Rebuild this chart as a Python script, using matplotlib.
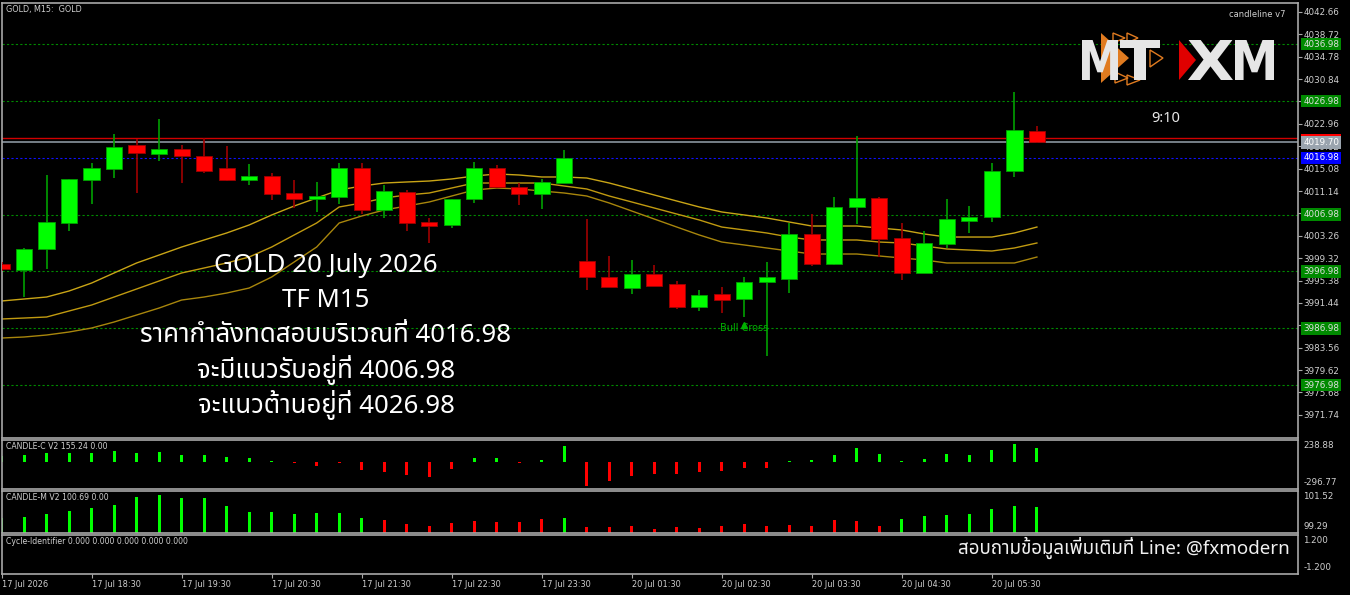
import matplotlib
matplotlib.use('Agg')
import matplotlib.pyplot as plt
from matplotlib import font_manager
from matplotlib.ft2font import FT2Font
from matplotlib.textpath import TextPath
from matplotlib.patches import PathPatch, Polygon, Rectangle
from matplotlib.font_manager import FontProperties
from matplotlib.transforms import Affine2D, blended_transform_factory

# ---- data (GOLD M15, 17 Jul 17:30 -> 20 Jul 06:00) ----
opens = [3998.29, 3997.23, 4000.93, 4005.51, 4013.08, 4015.02, 4019.24, 4017.66, 4018.54, 4017.30,
         4015.19, 4013.08, 4013.78, 4010.79, 4009.73, 4010.09, 4015.19, 4007.80, 4010.97, 4005.68,
         4005.16, 4009.73, 4015.19, 4011.85, 4010.61, 4012.55, 3998.82, 3996.00, 3994.06, 3996.53,
         3994.77, 3990.72, 3993.01, 3992.13, 3995.12, 3995.65, 4003.57, 3998.29, 4008.33, 4009.91,
         4002.87, 3996.71, 4001.81, 4005.86, 4006.56, 4014.66, 4021.71]
highs = [3998.64, 4001.11, 4013.96, 4013.26, 4016.07, 4021.18, 4020.30, 4023.82, 4019.24, 4020.47,
         4019.07, 4015.90, 4014.31, 4013.08, 4012.73, 4016.07, 4016.07, 4012.20, 4011.32, 4006.39,
         4009.73, 4016.25, 4015.72, 4012.55, 4013.26, 4018.36, 4006.21, 3999.70, 3998.99, 3998.11,
         3995.30, 3993.71, 3994.24, 3996.00, 3998.64, 4005.51, 4007.09, 4010.09, 4020.83, 4010.09,
         4005.51, 4004.10, 4009.73, 4008.50, 4016.07, 4028.57, 4022.59]
lows = [3997.06, 3992.48, 3997.41, 4004.10, 4008.85, 4013.43, 4010.79, 4016.42, 4012.55, 4014.31,
        4012.90, 4012.20, 4009.56, 4008.15, 4007.45, 4008.85, 4007.09, 4006.39, 4004.10, 4001.99,
        4004.63, 4009.03, 4011.67, 4008.68, 4007.97, 4012.55, 3993.71, 3994.24, 3993.01, 3994.42,
        3990.37, 3990.02, 3989.66, 3988.96, 3982.09, 3993.18, 3997.94, 3998.11, 4005.33, 3999.52,
        3995.47, 3996.71, 4001.11, 4003.75, 4005.68, 4013.61, 4019.55]
closes = [3997.41, 4000.93, 4005.68, 4013.26, 4015.19, 4018.89, 4017.83, 4018.54, 4017.30, 4014.66,
          4013.08, 4013.78, 4010.61, 4009.73, 4010.26, 4015.19, 4007.80, 4011.14, 4005.51, 4004.98,
          4009.73, 4015.19, 4011.85, 4010.61, 4012.73, 4016.95, 3996.00, 3994.24, 3996.53, 3994.42,
          3990.72, 3992.83, 3991.95, 3995.12, 3996.00, 4003.57, 3998.29, 4008.33, 4009.91, 4002.69,
          3996.71, 4001.99, 4006.21, 4006.56, 4014.66, 4021.88, 4019.70]

band_top = [3991.78, 3992.13, 3992.48, 3993.54, 3994.94, 3996.71, 3998.47, 3999.87, 4001.28, 4002.52,
            4003.75, 4005.16, 4006.92, 4008.50, 4009.91, 4011.32, 4012.02, 4012.55, 4012.73, 4012.90,
            4013.26, 4013.78, 4014.14, 4013.96, 4013.61, 4013.61, 4013.43, 4012.55, 4011.50, 4010.44,
            4009.38, 4008.33, 4007.45, 4006.92, 4006.39, 4005.68, 4004.98, 4004.98, 4004.98, 4004.63,
            4004.28, 4003.57, 4003.04, 4003.04, 4003.04, 4003.75, 4004.80]
band_mid = [3988.61, 3988.78, 3988.96, 3990.02, 3991.07, 3992.48, 3993.89, 3995.30, 3996.71, 3997.59,
            3998.47, 3999.52, 4001.28, 4003.40, 4005.51, 4008.33, 4009.03, 4009.91, 4010.44, 4010.79,
            4011.67, 4012.55, 4012.55, 4012.55, 4012.55, 4012.02, 4011.50, 4010.26, 4009.21, 4008.15,
            4007.09, 4006.04, 4004.80, 4004.28, 4003.75, 4003.04, 4002.52, 4002.52, 4002.52, 4002.16,
            4001.99, 4001.46, 4000.93, 4000.75, 4000.58, 4001.11, 4001.99]
band_low = [3985.26, 3985.44, 3985.79, 3986.32, 3987.02, 3988.08, 3989.31, 3990.54, 3991.95, 3992.48,
            3993.18, 3994.06, 3996.00, 3998.64, 4001.28, 4005.51, 4006.74, 4007.80, 4008.50, 4009.21,
            4010.26, 4011.32, 4011.67, 4011.50, 4011.14, 4010.79, 4010.26, 4009.03, 4007.62, 4006.21,
            4004.80, 4003.40, 4002.16, 4001.64, 4001.11, 4000.58, 4000.05, 4000.05, 4000.05, 3999.70,
            3999.35, 3998.99, 3998.47, 3998.47, 3998.47, 3998.47, 3999.52]

candle_c = [63, 74, 100, 100, 100, 122, 100, 107, 78, 70,
            55, 37, 7, -18, -44, -11, -92, -115, -140, -166,
            -81, 44, 44, -11, 22, 174, -259, -214, -159, -129,
            -137, -115, -96, -70, -70, 7, 22, 78, 148, 85,
            11, 30, 85, 74, 130, 192, 155.24]
candle_m = [100.11, 100.14, 100.32, 100.47, 100.61, 100.80, 101.21, 101.31, 101.16, 101.16,
            100.70, 100.40, 100.40, 100.28, 100.34, 100.37, 100.06, 99.97, 99.77, 99.67,
            99.81, 99.94, 99.86, 99.89, 100.01, 100.06, 99.63, 99.63, 99.67, 99.50,
            99.60, 99.56, 99.67, 99.75, 99.67, 99.70, 99.67, 99.97, 99.92, 99.67,
            100.03, 100.18, 100.22, 100.28, 100.58, 100.73, 100.69]
candle_m_up = [True] * 17 + [False] * 8 + [True] + [False] * 14 + [True] * 7

time_ticks = [0, 4, 8, 12, 16, 20, 24, 28, 32, 36, 40, 44]
time_labels = ['17 Jul 2026', '17 Jul 18:30', '17 Jul 19:30', '17 Jul 20:30', '17 Jul 21:30',
               '17 Jul 22:30', '17 Jul 23:30', '20 Jul 01:30', '20 Jul 02:30', '20 Jul 03:30',
               '20 Jul 04:30', '20 Jul 05:30']
price_ticks = [4042.66, 4038.72, 4034.78, 4030.84, 4026.90, 4022.96, 4019.02, 4015.08, 4011.14,
               4007.20, 4003.26, 3999.32, 3995.38, 3991.44, 3987.50, 3983.56, 3979.62, 3975.68, 3971.74]
green_levels = [4036.98, 4026.98, 4006.98, 3996.98, 3986.98, 3976.98]
blue_level = 4016.98
bid = 4019.70
ask = 4020.40
bull_cross_idx = 33
bull_cross_price = 3987.0
c_range = (-296.77, 238.88)
m_range = (99.29, 101.52)

# ---- fonts ----
def find_thai():
    names = []
    for f in font_manager.fontManager.ttflist:
        try:
            if 0x0E01 in FT2Font(f.fname).get_charmap():
                names.append(f.name)
        except Exception:
            pass
    for p in ['Noto Sans Thai', 'Noto Sans Thai UI', 'Noto Sans Thai Looped', 'Sarabun', 'Kanit',
              'Prompt', 'Loma', 'Garuda', 'Waree', 'Tlwg Typo']:
        if p in names:
            return p
    return names[0] if names else 'DejaVu Sans'

thai = find_thai()
thai_fam = [thai, 'Noto Sans', 'DejaVu Sans']
small = 'DejaVu Sans'

BG = 'black'
SPINE = '#a8a8a8'
TXT = '#d0d0d0'
W, H = 1350, 595

fig = plt.figure(figsize=(13.5, 5.95), dpi=100, facecolor=BG)

def frame(top, bot):
    ax = fig.add_axes([2 / W, 1 - bot / H, 1296 / W, (bot - top) / H], facecolor=BG)
    for s in ax.spines.values():
        s.set_color(SPINE)
        s.set_linewidth(1.2)
    ax.set_xlim(0.02, 57.6)
    ax.tick_params(axis='x', bottom=False, labelbottom=False)
    return ax

xs = list(range(len(opens)))

# ---- main price panel ----
ax = frame(3, 438)
ax.set_ylim(3967.66, 4044.24)
for lv in green_levels:
    ax.axhline(lv, color='#008a00', lw=0.8, ls=(0, (2, 2)))
ax.axhline(blue_level, color='#1010ff', lw=0.8, ls=(0, (2, 2)))
ax.axhline(ask, color='#d00000', lw=1)
ax.axhline(bid, color='#8a949e', lw=1.2)

for band, col in [(band_top, '#c9a516'), (band_mid, '#c09a10'), (band_low, '#a8860c')]:
    ax.plot(xs, band, color=col, lw=1, zorder=2)

for i in xs:
    up = closes[i] >= opens[i]
    body = '#00ff00' if up else '#ff0000'
    wick = '#00a000' if up else '#a00000'
    ax.vlines(i, lows[i], highs[i], color=wick, lw=1.2, zorder=3)
    ax.bar(i, closes[i] - opens[i], bottom=opens[i], width=0.72, color=body,
           edgecolor=wick, linewidth=0.6, zorder=4)

ax.plot(bull_cross_idx, bull_cross_price + 0.6, marker='^', color='#00b000', ms=5, zorder=5)
ax.text(bull_cross_idx, bull_cross_price, 'Bull Cross', color='#00b000', fontsize=7,
        ha='center', va='center', family=small, zorder=5)

ax.yaxis.tick_right()
ax.set_yticks(price_ticks)
ax.set_yticklabels([f'{v:.2f}' for v in price_ticks])
ax.tick_params(axis='y', color=SPINE, labelcolor=TXT, labelsize=6.3, length=3, pad=1)

def tag(price, text, fc, tc='white'):
    ax.text(1.004, price, text, transform=ax.get_yaxis_transform(), fontsize=6.3, color=tc,
            va='center', ha='left', family=small, clip_on=False, zorder=10,
            bbox=dict(boxstyle='square,pad=0.2', fc=fc, ec='none'))

for lv in green_levels:
    tag(lv, f'{lv:.2f}', '#008a00', '#e0e0e0')
tag(blue_level, f'{blue_level:.2f}', '#0000ff')
# ask tag sits mostly hidden behind the bid tag, only its red edge shows
ask_tr = blended_transform_factory(ax.transAxes, ax.transData)
ax.add_patch(Rectangle((1.0025, ask - 0.55), 0.031, 1.3, transform=ask_tr, fc='#ff0000',
                       ec='none', clip_on=False, zorder=9))
tag(bid, f'{bid:.2f}', '#9aa4ae')

ax.text(0.003, 0.995, 'GOLD, M15:  GOLD', transform=ax.transAxes, color=TXT, fontsize=5.8,
        va='top', ha='left', family=small)
ax.text(0.99, 0.985, 'candleline v7', transform=ax.transAxes, color=TXT, fontsize=6,
        va='top', ha='right', family=small)

# ---- CANDLE-C panel ----
axc = frame(440, 489)
axc.set_ylim(*c_range)
axc.bar(xs, candle_c, width=0.13, color=['#00ff00' if v >= 0 else '#ff0000' for v in candle_c])
axc.set_yticks([])
axc.text(0.003, 0.96, f'CANDLE-C V2 {candle_c[-1]:.2f} 0.00', transform=axc.transAxes,
         color=TXT, fontsize=5.6, va='top', family=small)
axc.text(1.004, 0.98, f'{c_range[1]:.2f}', transform=axc.transAxes, color=TXT, fontsize=6.3,
         va='top', family=small)
axc.text(1.004, 0.04, f'{c_range[0]:.2f}', transform=axc.transAxes, color=TXT, fontsize=6.3,
         va='bottom', family=small)

# ---- CANDLE-M panel ----
axm = frame(491, 533)
axm.set_ylim(*m_range)
axm.bar(xs, [v - m_range[0] for v in candle_m], bottom=m_range[0], width=0.13,
        color=['#00ff00' if u else '#ff0000' for u in candle_m_up])
axm.set_yticks([])
axm.text(0.003, 0.96, f'CANDLE-M V2 {candle_m[-1]:.2f} 0.00', transform=axm.transAxes,
         color=TXT, fontsize=5.6, va='top', family=small)
axm.text(1.004, 0.98, f'{m_range[1]:.2f}', transform=axm.transAxes, color=TXT, fontsize=6.3,
         va='top', family=small)
axm.text(1.004, 0.04, f'{m_range[0]:.2f}', transform=axm.transAxes, color=TXT, fontsize=6.3,
         va='bottom', family=small)

# ---- Cycle-Identifier panel ----
axy = frame(535, 574)
axy.set_ylim(-1.2, 1.2)
axy.set_yticks([])
axy.text(0.003, 0.95, 'Cycle-Identifier 0.000 0.000 0.000 0.000 0.000', transform=axy.transAxes,
         color=TXT, fontsize=5.6, va='top', family=small)
axy.text(1.004, 0.98, '1.200', transform=axy.transAxes, color=TXT, fontsize=6.3, va='top', family=small)
axy.text(1.004, 0.04, '-1.200', transform=axy.transAxes, color=TXT, fontsize=6.3, va='bottom', family=small)
axy.set_xticks(time_ticks)
axy.set_xticklabels(time_labels)
axy.tick_params(axis='x', bottom=True, labelbottom=True, color=SPINE, labelcolor=TXT,
                labelsize=5.9, length=3, pad=1.5)
for lab in axy.get_xticklabels():
    lab.set_ha('left')

# ---- overlay: annotations in pixel space ----
ov = fig.add_axes([0, 0, 1, 1], zorder=20)
ov.set_xlim(0, W)
ov.set_ylim(H, 0)
ov.axis('off')
ov.patch.set_alpha(0)

lines = ['GOLD 20 July 2026', 'TF M15', 'ราคากำลังทดสอบบริเวณที่ 4016.98',
         'จะมีแนวรับอยู่ที่ 4006.98', 'จะแนวต้านอยู่ที่ 4026.98']
for j, t in enumerate(lines):
    ov.text(326, 266 + 34.7 * j, t, color='white', fontsize=18.6, ha='center', va='center',
            family=thai_fam)
ov.text(1290, 548, 'สอบถามข้อมูลเพิ่มเติมที่ Line: @fxmodern', color='#f0f0f0', fontsize=13.5,
        ha='right', va='center', family=thai_fam)
ov.text(1166, 118, '9:10', color='#e8e8e8', fontsize=10.5, ha='center', va='center', family=thai_fam)

def logo_word(s, x0, x1, ytop, ybot, color):
    tp = TextPath((0, 0), s, size=100, prop=FontProperties(family='DejaVu Sans', weight='bold'))
    e = tp.get_extents()
    tr = Affine2D().translate(-e.x0, -e.y0).scale((x1 - x0) / e.width, -(ybot - ytop) / e.height)
    tr = tr.translate(x0, ybot)
    ov.add_patch(PathPatch(tr.transform_path(tp), fc=color, ec='none', zorder=3))

orange = '#e07b20'
ov.add_patch(Polygon([(1101, 33), (1101, 83), (1129, 58)], closed=True, fc=orange, ec='none', zorder=2))
for tri in [[(1113, 33), (1113, 43), (1125, 38)], [(1127, 33), (1127, 43), (1138, 38)],
            [(1150, 50), (1150, 67), (1163, 58)], [(1115, 72), (1115, 83), (1128, 78)],
            [(1127, 75), (1127, 85), (1140, 80)]]:
    ov.add_patch(Polygon(tri, closed=True, fc='none', ec=orange, lw=1, zorder=2))
logo_word('M', 1082, 1118, 40, 80, '#e6e6e6')
logo_word('T', 1120, 1160, 40, 80, '#e6e6e6')
logo_word('X', 1188, 1233, 40, 80, '#e6e6e6')
logo_word('M', 1235, 1274, 40, 80, '#e6e6e6')
ov.add_patch(Polygon([(1179, 40), (1179, 80), (1196, 60)], closed=True, fc='#e00000', ec='none', zorder=4))

fig.savefig('out.png', dpi=100, facecolor=BG)
